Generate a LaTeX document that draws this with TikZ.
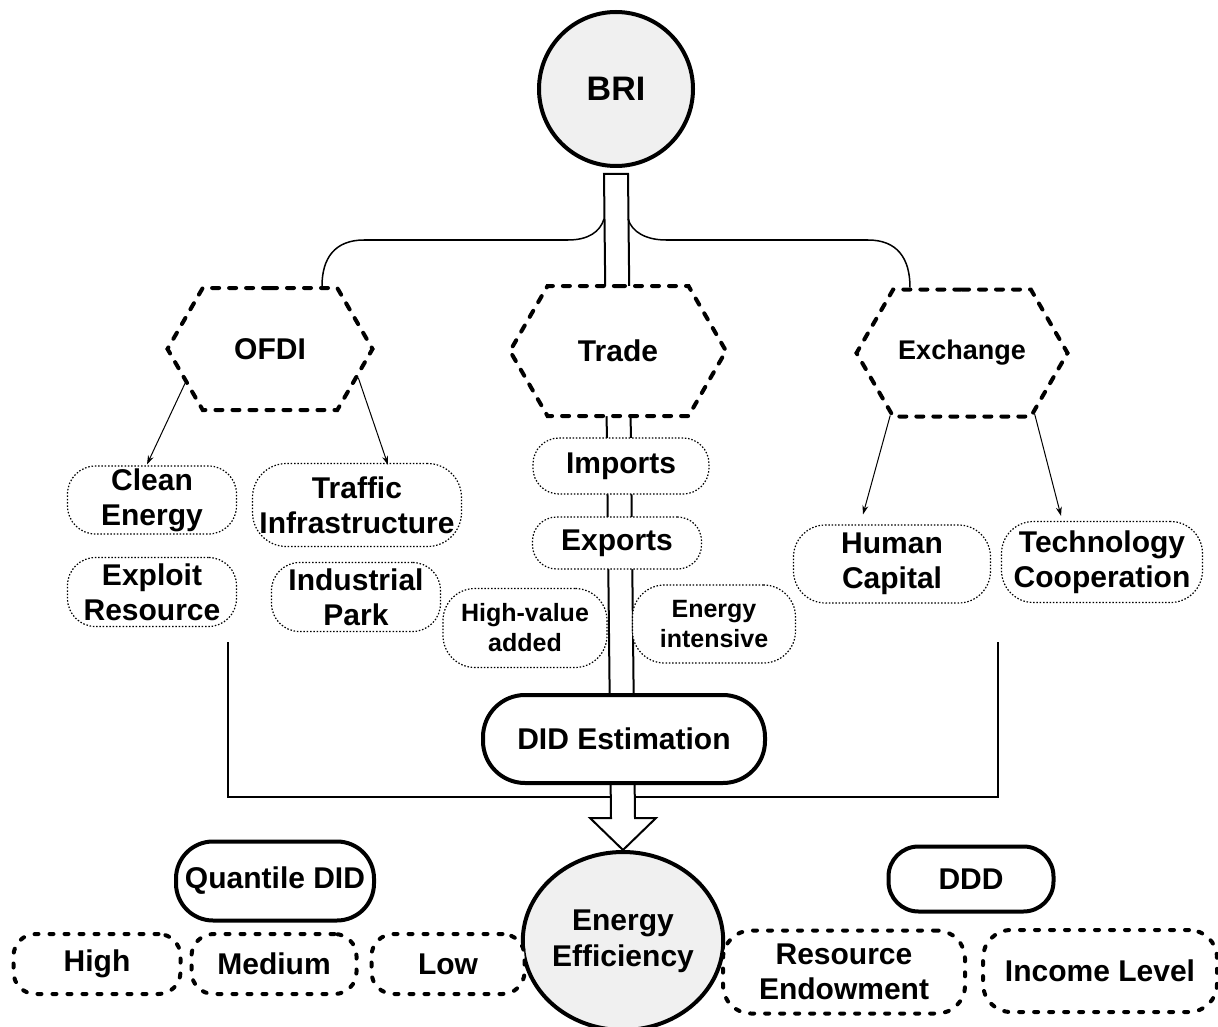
\documentclass[tikz,border=0pt]{standalone}
\usepackage{fontspec}
\setmainfont{Liberation Sans}
\usetikzlibrary{shapes.symbols,shapes.geometric,arrows.meta,calc,backgrounds}

\tikzset{
  txt/.style={font=\bfseries\fontsize{30}{35}\selectfont, align=center, inner sep=0pt},
  bigcircle/.style={txt, circle, draw, line width=4pt, fill=gray!12},
  hexbox/.style={txt, shape=signal, signal to=west and east, signal pointer angle=120,
    draw, line width=4pt, dash pattern=on 7pt off 10pt, line cap=round, fill=white},
  dotbox/.style={txt, draw, line width=1.2pt, dash pattern=on 1.5pt off 1.8pt, rounded corners=28pt, fill=white},
  solidbox/.style={txt, draw, line width=4pt, fill=white},
  dashbox/.style={txt, draw, line width=4pt, dash pattern=on 4pt off 11pt, line cap=round,
    rounded corners=22pt, fill=white},
  thinarrow/.style={-{Stealth[length=9pt,width=6pt]}, line width=1pt},
  bracketline/.style={line width=2pt},
  bigarrow/.style={line width=2pt, fill=white, line join=miter}
}

\begin{document}
\begin{tikzpicture}[x=1pt,y=-1pt]
\useasboundingbox (0,0) rectangle (1218,1027);

% top
\node[bigcircle, minimum size=154pt] (bri) at (616,89) {\fontsize{34}{40}\selectfont BRI};

% channels
\node[hexbox, minimum width=205pt, minimum height=122pt] (ofdi) at (270,349) {OFDI};
\node[hexbox, minimum width=216pt, minimum height=130pt] (trade) at (618,351) {Trade};
\node[hexbox, minimum width=211pt, minimum height=127pt,
  font=\bfseries\fontsize{27}{32}\selectfont] (exchange) at (962,353) {Exchange};

\node[dotbox, minimum width=169pt, minimum height=68pt] (clean) at (152,500) {Clean\\Energy};
\node[dotbox, minimum width=209pt, minimum height=83pt, rounded corners=34pt] (traffic) at (357,505) {Traffic\\Infrastructure};
\node[dotbox, minimum width=169pt, minimum height=69pt] (exploit) at (152,592) {Exploit\\Resource};
\node[dotbox, minimum width=169pt, minimum height=69pt] (park) at (356,597) {Industrial\\Park};

\node[dotbox, minimum width=176pt, minimum height=56pt, rounded corners=26pt] (imports) at (621,466) {Imports};
\node[dotbox, minimum width=169pt, minimum height=52pt, rounded corners=24pt] (exports) at (617,543) {Exports};
\node[dotbox, minimum width=164pt, minimum height=79pt, rounded corners=32pt,
  font=\bfseries\fontsize{25}{30}\selectfont] (hva) at (525,628) {High-value\\added};
\node[dotbox, minimum width=163pt, minimum height=78pt, rounded corners=32pt,
  font=\bfseries\fontsize{25}{30}\selectfont] (eint) at (714,624) {Energy\\intensive};

\node[dotbox, minimum width=197pt, minimum height=78pt, rounded corners=32pt] (human) at (892,564) {Human\\Capital};
\node[dotbox, minimum width=201pt, minimum height=81pt, rounded corners=32pt] (tech) at (1102,562) {Technology\\Cooperation};

% estimation
\node[solidbox, minimum width=282pt, minimum height=88pt, rounded corners=42pt] (did) at (624,739) {DID Estimation};
\node[solidbox, minimum width=198pt, minimum height=79pt, rounded corners=37pt] (qdid) at (275,881) {Quantile DID};
\node[solidbox, minimum width=165pt, minimum height=65pt, rounded corners=30pt] (ddd) at (971,879) {DDD};

\node[bigcircle, ellipse, minimum width=172pt, minimum height=178pt,
  font=\bfseries\fontsize{30}{36}\selectfont] (ee) at (623,941) {Energy\\Efficiency};

\node[dashbox, minimum width=167pt, minimum height=60pt] (high) at (97,964) {High};
\node[dashbox, minimum width=165pt, minimum height=60pt] (medium) at (274,964) {Medium};
\node[dashbox, minimum width=153pt, minimum height=60pt] (low) at (448,964) {Low};
\node[dashbox, minimum width=242pt, minimum height=83pt, rounded corners=28pt] (resend) at (844,972) {Resource\\Endowment};
\node[dashbox, minimum width=234pt, minimum height=82pt, rounded corners=28pt] (income) at (1100,971) {Income Level};

% arrows from channels
\draw[thinarrow] (ofdi.-158) -- ($(clean.north)+(-5,-1)$);
\draw[thinarrow] (ofdi.-18) -- ($(traffic.north)+(31,2)$);
\draw[thinarrow] (exchange.-139) -- ($(human.north)+(-29,-10)$);
\draw[thinarrow] (exchange.-40) -- ($(tech.north)+(-41,-5)$);

% brace from the stem to the outer channels
\coordinate (sl) at ($(bri.south)+(-12,51)$);
\coordinate (sr) at ($(bri.south)+(12,51)$);
\coordinate (bl) at ($(ofdi.north)+(52,0)$);
\coordinate (br) at ($(exchange.north)+(-52,0)$);
\draw[line width=1.5pt] (bl) .. controls (322,258) and (335,240) .. (364,240) -- (568,240)
  .. controls (588,240) and (600,232) .. (sl);
\draw[line width=1.5pt] (sr) .. controls (632,232) and (646,240) .. (666,240) -- (868,240)
  .. controls (897,240) and (910,258) .. (br);

\begin{pgfonlayer}{background}
  % bracket round the channels
  \coordinate (brl) at (228,642);
  \coordinate (brr) at (998,642);
  \draw[bracketline] (brl) -- ++(0,155) -| (brr);
  % main arrow
  \draw[bigarrow] ($(bri.south)+(-12,6)$) -- ($(ee.north)+(-12,-32)$) -- ++(-21,0) -- (ee.north)
    -- ($(ee.north)+(33,-32)$) -- ++(-21,0) -- ($(bri.south)+(12,6)$) -- cycle;
\end{pgfonlayer}

\end{tikzpicture}
\end{document}
